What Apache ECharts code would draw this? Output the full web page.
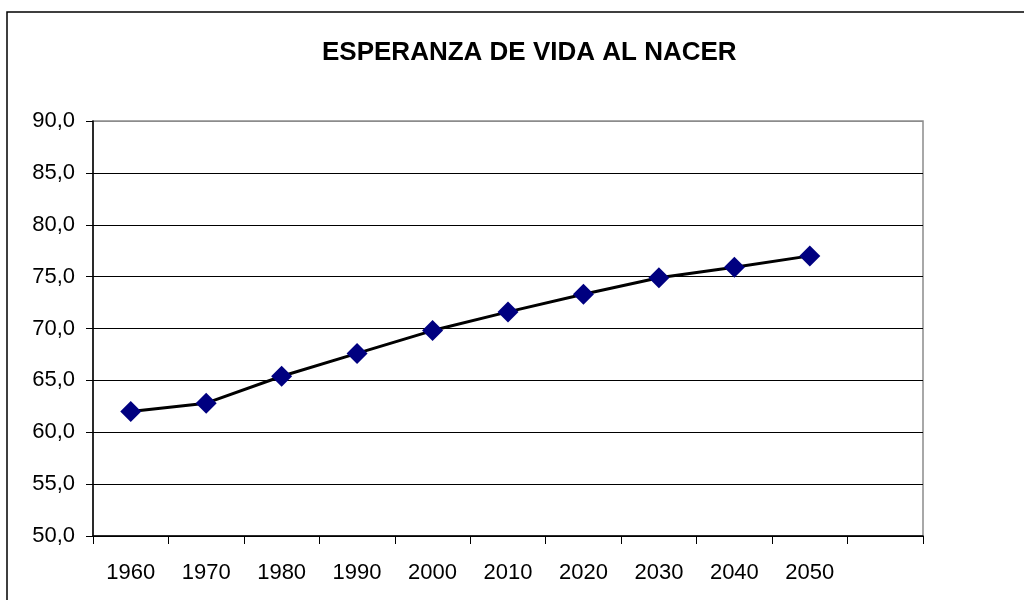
<!DOCTYPE html>
<html>
<head>
    <meta charset="utf-8" />
    <title>Esperanza de vida</title>
    <script src="https://cdn.jsdelivr.net/npm/echarts@6/dist/echarts.min.js"></script>
    <style>
        html, body { margin: 0; padding: 0; background: #fff; }
        #container { width: 1024px; height: 600px; }
    </style>
</head>
<body>
    <div id="container"></div>
<script>
    // años (la última casilla va vacía, como en la hoja original)
    var years = ['1960', '1970', '1980', '1990', '2000', '2010', '2020', '2030', '2040', '2050', ''];
    var lifeExp = [62.0, 62.8, 65.4, 67.6, 69.8, 71.6, 73.3, 74.9, 75.9, 77.0];
    var yMin = 50, yMax = 90, yStep = 5;

    var font = '"Liberation Sans", Arial, sans-serif';
    // lineas de division: todas negras salvo la de arriba (gris)
    var splitColors = [];
    for (var v = yMin; v <= yMax; v += yStep) {
        splitColors.push(v === yMax ? '#8c8c8c' : '#000');
    }

    var myChart = echarts.init(document.getElementById('container'));
    myChart.setOption({
        animation: false,
        backgroundColor: '#fff',
        title: {
            text: 'ESPERANZA DE VIDA AL NACER',
            left: 317,
            top: 35,
            textStyle: { fontFamily: font, fontSize: 26, fontWeight: 'bold', color: '#000' }
        },
        graphic: [{
            type: 'rect',
            shape: { x: 7, y: 12, width: 1200, height: 800 },
            style: { fill: 'none', stroke: '#000', lineWidth: 1.5 },
            silent: true
        }],
        grid: {
            left: 93, top: 121, right: 101, bottom: 64,
            show: true, borderColor: '#8c8c8c', borderWidth: 1.5, backgroundColor: '#fff'
        },
        xAxis: {
            type: 'category',
            data: years,
            boundaryGap: true,
            axisLine: { lineStyle: { color: '#000', width: 1.5 } },
            axisTick: { show: true, length: 8, alignWithLabel: false, lineStyle: { color: '#000' } },
            axisLabel: { fontFamily: font, fontSize: 22, color: '#000', margin: 26, interval: 0 },
            splitLine: { show: false }
        },
        yAxis: {
            type: 'value',
            min: yMin, max: yMax, interval: yStep,
            axisLine: { show: true, lineStyle: { color: '#000', width: 1.5 } },
            axisTick: { show: true, length: 7, lineStyle: { color: '#000' } },
            axisLabel: {
                fontFamily: font, fontSize: 22, color: '#000', margin: 18,
                formatter: function (val) { return val.toFixed(1).replace('.', ','); }
            },
            splitLine: { show: true, lineStyle: { color: splitColors, width: 1.2 } }
        },
        series: [{
            type: 'line',
            data: lifeExp,
            symbol: 'diamond',
            symbolSize: 21,
            showAllSymbol: true,
            lineStyle: { color: '#000', width: 3 },
            itemStyle: { color: '#000080', borderWidth: 0 }
        }]
    });
</script>
</body>
</html>
